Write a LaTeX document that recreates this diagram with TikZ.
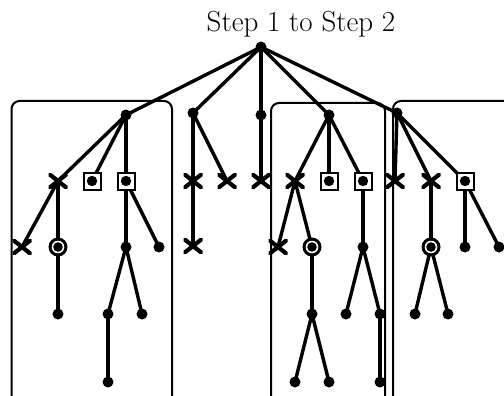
\documentclass[tikz,border=0pt]{standalone}
\usetikzlibrary{backgrounds}
\begin{document}
\begin{tikzpicture}[x=1pt,y=-1pt,
  edge/.style={line width=3.4pt,line cap=round},
  frame/.style={line width=2pt,rounded corners=8pt},
  dotn/.style={circle,fill=black,inner sep=0pt,minimum size=11pt},
  xm/.style={rectangle,inner sep=0pt,minimum width=19pt,minimum height=15pt,
    path picture={\draw[line width=4.2pt]
      (path picture bounding box.south west) -- (path picture bounding box.north east)
      (path picture bounding box.north west) -- (path picture bounding box.south east);}},
  sq/.style={rectangle,draw,fill=white,line width=2pt,inner sep=0pt,minimum size=17pt,
    path picture={\fill[black] (path picture bounding box.center) circle (5.2pt);}},
  circ/.style={circle,fill=black,inner sep=0pt,minimum size=19pt,
    path picture={\fill[white] (path picture bounding box.center) circle (6.3pt);
      \fill[black] (path picture bounding box.center) circle (4.8pt);}}
]
\useasboundingbox (0,0) rectangle (504,396);
\clip (0,0) rectangle (504,396);
\node[font=\fontsize{29}{34}\selectfont,inner sep=0pt] (title) at (301,24) {Step 1 to Step 2};
% nodes
\node[dotn] (root) at (261,47) {};
\node[dotn] (A) at (126,115) {};
\node[dotn] (B) at (193,113) {};
\node[dotn] (C) at (261,115) {};
\node[dotn] (D) at (329,115) {};
\node[dotn] (E) at (397,113) {};
% A subtree
\node[xm] (a1) at (58,181) {};
\node[sq] (a2) at (92,181) {};
\node[sq] (a3) at (126,181) {};
\node[xm] (a11) at (22,247) {};
\node[circ] (a12) at (58,247) {};
\node[dotn] (a121) at (58,314) {};
\node[dotn] (a31) at (126,247) {};
\node[dotn] (a32) at (159,247) {};
\node[dotn] (a311) at (108,314) {};
\node[dotn] (a312) at (142,314) {};
\node[dotn] (a3111) at (108,382) {};
% B, C
\node[xm] (b1) at (193,181) {};
\node[xm] (b2) at (227,181) {};
\node[xm] (b11) at (193,246) {};
\node[xm] (c1) at (261,181) {};
% D subtree
\node[xm] (d1) at (295,181) {};
\node[sq] (d2) at (329,181) {};
\node[sq] (d3) at (363,181) {};
\node[xm] (d11) at (278,247) {};
\node[circ] (d12) at (312,247) {};
\node[dotn] (d121) at (312,314) {};
\node[dotn] (d1211) at (295,382) {};
\node[dotn] (d1212) at (329,382) {};
\node[dotn] (d31) at (363,247) {};
\node[dotn] (d311) at (346,314) {};
\node[dotn] (d312) at (380,314) {};
\node[dotn] (d3121) at (380,382) {};
% E subtree
\node[xm] (e1) at (395,181) {};
\node[xm] (e2) at (431,181) {};
\node[sq] (e3) at (465,181) {};
\node[circ] (e21) at (431,247) {};
\node[dotn] (e211) at (415,314) {};
\node[dotn] (e212) at (448,314) {};
\node[dotn] (e31) at (465,247) {};
\node[dotn] (e32) at (499,247) {};
\begin{scope}[on background layer]
  \draw[frame] (11.5,420) -- (11.5,101) -- (172,101) -- (172,420);
  \draw[frame] (271,420) -- (271,103) -- (385,103) -- (385,420);
  \draw[frame] (393,420) -- (393,101) -- (530,101);
  \foreach \p/\c in {root/A,root/B,root/C,root/D,root/E,
     A/a1,A/a2,A/a3,a1/a11,a1/a12,a12/a121,a3/a31,a3/a32,a31/a311,a31/a312,a311/a3111,
     B/b1,B/b2,b1/b11,C/c1,
     D/d1,D/d2,D/d3,d1/d11,d1/d12,d12/d121,d121/d1211,d121/d1212,d3/d31,d31/d311,d31/d312,d312/d3121,
     E/e1,E/e2,E/e3,e2/e21,e21/e211,e21/e212,e3/e31,e3/e32}
    \draw[edge] (\p.center) -- (\c.center);
\end{scope}
\end{tikzpicture}
\end{document}
